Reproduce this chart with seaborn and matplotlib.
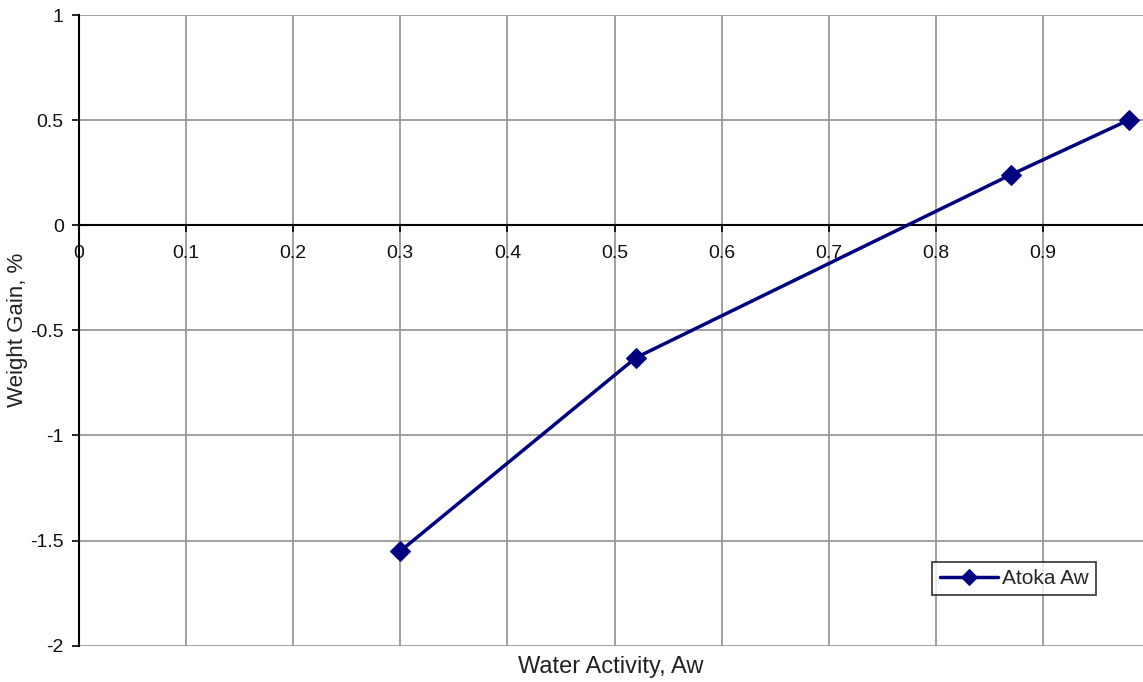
import matplotlib
matplotlib.use("Agg")
import matplotlib.pyplot as plt
import seaborn as sns
import pandas as pd

water_activity = [0.30, 0.52, 0.87, 0.98]
weight_gain = [-1.55, -0.63, 0.24, 0.50]
series_name = "Atoka Aw"
x_ticks = [0, 0.1, 0.2, 0.3, 0.4, 0.5, 0.6, 0.7, 0.8, 0.9]
x_tick_labels = ["0", "0.1", "0.2", "0.3", "0.4", "0.5", "0.6", "0.7", "0.8", "0.9"]
y_ticks = [-2, -1.5, -1, -0.5, 0, 0.5, 1]
y_tick_labels = ["-2", "-1.5", "-1", "-0.5", "0", "0.5", "1"]

sns.set_style("white")
plt.rcParams["font.family"] = ["Liberation Sans", "DejaVu Sans"]
plt.rcParams["axes.unicode_minus"] = False

df = pd.DataFrame({"aw": water_activity, "gain": weight_gain})

fig = plt.figure(figsize=(11.43, 6.82), dpi=100)
ax = fig.add_axes([79 / 1143, 36.3 / 682, 1 - 79 / 1143, (645.7 - 15) / 682])

sns.lineplot(data=df, x="aw", y="gain", ax=ax, color="#000080", lw=2.5,
             marker="D", markersize=10, markeredgecolor="#000080",
             label=series_name, zorder=5)

ax.set_xlim(0, (1143 - 79) / 1071)
ax.set_ylim(-2, 1)
ax.set_xticks(x_ticks)
ax.set_xticklabels(x_tick_labels)
ax.set_yticks(y_ticks)
ax.set_yticklabels(y_tick_labels)

ax.grid(True, color="#999999", lw=1.3)
ax.set_axisbelow(True)

for s in ["top", "right"]:
    ax.spines[s].set_visible(False)
ax.spines["bottom"].set_position(("data", 0))
ax.spines["bottom"].set_color("black")
ax.spines["bottom"].set_linewidth(1.5)
ax.spines["left"].set_color("black")
ax.spines["left"].set_linewidth(1.5)
ax.spines["bottom"].set_zorder(3)

ax.tick_params(axis="x", direction="out", length=5, width=1.2, color="black",
               labelsize=14, pad=9, bottom=True, labelcolor="#111111")
ax.tick_params(axis="y", direction="out", length=5, width=1.2, color="black",
               labelsize=14, pad=6, left=True, labelcolor="#111111")
for lbl in ax.get_xticklabels():
    lbl.set_horizontalalignment("center")

ax.set_xlabel("")
ax.set_ylabel("")
fig.text((79 + 1143) / 2 / 1143, 1 - 667 / 682, "Water Activity, Aw",
         ha="center", va="center", fontsize=17, color="#222222")
fig.text(18 / 1143, 1 - 330 / 682, "Weight Gain, %", rotation=90,
         ha="center", va="center", fontsize=16, color="#222222")

leg = ax.legend(loc="lower left", bbox_to_anchor=(0.802, 0.080),
                borderaxespad=0, fontsize=15, frameon=True, fancybox=False,
                edgecolor="black", handlelength=2.8, handletextpad=0.2,
                borderpad=0.35, markerscale=0.8)
leg.get_frame().set_linewidth(1.2)

fig.savefig("out.png", dpi=100, facecolor="white")
